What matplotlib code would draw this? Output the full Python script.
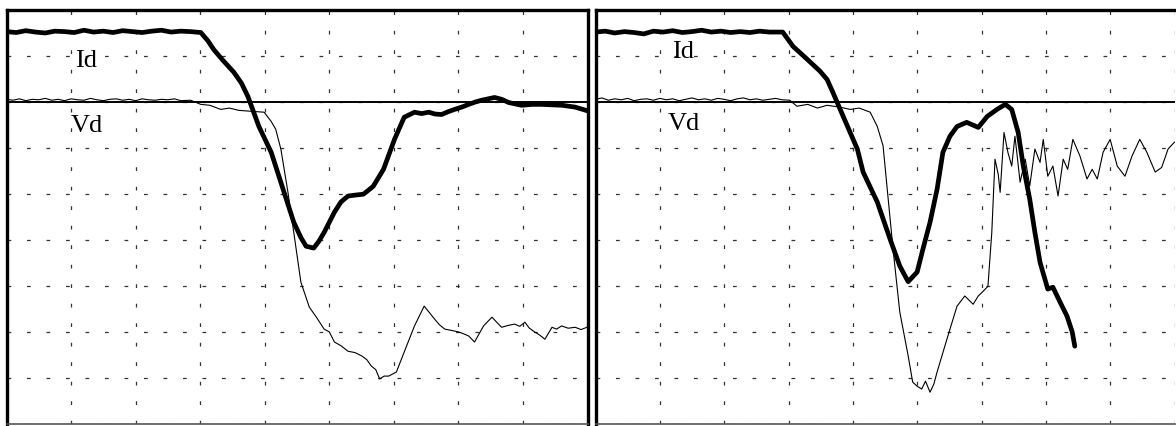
import matplotlib
matplotlib.use('Agg')
import matplotlib.pyplot as plt

# traces in screen divisions (x: 0..9 div, y: 0..9 div, reference line at 7)
left_id_x = [0.0, 0.15, 0.3, 0.45, 0.6, 0.75, 0.9, 1.05, 1.2, 1.35, 1.5, 1.65, 1.8, 1.95, 2.1, 2.25,
             2.4, 2.55, 2.7, 2.85, 3.01, 3.12, 3.21, 3.35, 3.52, 3.64, 3.74, 3.91, 4.10, 4.30, 4.45,
             4.56, 4.64, 4.76, 4.84, 4.92, 5.08, 5.18, 5.29, 5.40, 5.53, 5.68, 5.84, 6.01, 6.16, 6.32,
             6.43, 6.54, 6.64, 6.74, 6.84, 6.94, 7.05, 7.16, 7.26, 7.36, 7.46, 7.56, 7.67, 7.78, 7.88,
             7.98, 8.14, 8.29, 8.45, 8.61, 8.71, 8.81, 9.0]
left_id_y = [8.52, 8.50, 8.54, 8.51, 8.49, 8.53, 8.52, 8.50, 8.55, 8.51, 8.53, 8.50, 8.54, 8.52, 8.50,
             8.53, 8.55, 8.51, 8.53, 8.52, 8.50, 8.32, 8.13, 7.90, 7.64, 7.40, 7.11, 6.46, 5.90, 5.03,
             4.38, 4.05, 3.86, 3.82, 3.97, 4.16, 4.60, 4.82, 4.95, 4.97, 4.99, 5.16, 5.53, 6.18, 6.66,
             6.77, 6.74, 6.77, 6.73, 6.72, 6.78, 6.83, 6.88, 6.94, 6.99, 7.03, 7.06, 7.09, 7.05, 6.98,
             6.95, 6.92, 6.94, 6.94, 6.93, 6.92, 6.90, 6.88, 6.80]

left_vd_x = [0.0, 0.1, 0.2, 0.3, 0.4, 0.5, 0.6, 0.7, 0.8, 0.9, 1.0, 1.1, 1.2, 1.3, 1.4, 1.5, 1.6, 1.7,
             1.8, 1.9, 2.0, 2.1, 2.2, 2.3, 2.4, 2.5, 2.6, 2.7, 2.85, 3.01, 3.15, 3.32, 3.45, 3.6, 3.79,
             3.99, 4.10, 4.17, 4.25, 4.36, 4.45, 4.56, 4.69, 4.80, 4.92, 5.00, 5.08, 5.18, 5.29, 5.40,
             5.50, 5.58, 5.65, 5.72, 5.78, 5.85, 5.92, 6.04, 6.16, 6.32, 6.47, 6.55, 6.63, 6.71, 6.79,
             6.90, 7.00, 7.08, 7.16, 7.25, 7.39, 7.52, 7.60, 7.67, 7.77, 7.87, 7.95, 8.03, 8.10, 8.18,
             8.26, 8.34, 8.45, 8.52, 8.60, 8.70, 8.81, 8.90, 8.99]
left_vd_y = [7.05, 7.03, 7.06, 7.02, 7.05, 7.04, 7.07, 7.03, 7.05, 7.02, 7.06, 7.04, 7.03, 7.07, 7.04,
             7.02, 7.05, 7.06, 7.03, 7.05, 7.02, 7.06, 7.04, 7.03, 7.05, 7.04, 7.06, 7.02, 7.03, 6.94,
             6.92, 6.83, 6.86, 6.81, 6.79, 6.77, 6.57, 6.40, 5.97, 5.03, 4.16, 3.08, 2.54, 2.32, 2.06,
             2.00, 1.78, 1.70, 1.58, 1.55, 1.48, 1.40, 1.26, 1.18, 0.98, 1.04, 1.04, 1.13, 1.56, 2.13,
             2.56, 2.42, 2.28, 2.15, 2.06, 2.03, 2.00, 1.96, 1.91, 1.78, 2.13, 2.32, 2.20, 2.10, 2.14,
             2.17, 2.12, 2.21, 2.08, 2.00, 1.93, 1.84, 2.10, 2.06, 2.13, 2.08, 2.10, 2.05, 2.10]

right_id_x = [0.0, 0.15, 0.3, 0.45, 0.6, 0.75, 0.9, 1.05, 1.2, 1.35, 1.5, 1.65, 1.8, 1.95, 2.1, 2.25,
              2.4, 2.55, 2.7, 2.91, 3.07, 3.29, 3.49, 3.60, 3.69, 3.85, 4.07, 4.16, 4.38, 4.58, 4.73,
              4.86, 5.00, 5.09, 5.20, 5.31, 5.40, 5.51, 5.62, 5.77, 5.95, 6.09, 6.24, 6.37, 6.47, 6.57,
              6.65, 6.75, 6.83, 6.91, 7.03, 7.11, 7.22, 7.33, 7.41, 7.45]
right_id_y = [8.51, 8.53, 8.49, 8.52, 8.50, 8.47, 8.53, 8.51, 8.54, 8.50, 8.52, 8.55, 8.51, 8.53, 8.50,
              8.52, 8.50, 8.53, 8.51, 8.51, 8.20, 7.92, 7.66, 7.48, 7.20, 6.68, 5.97, 5.47, 4.82, 4.01,
              3.43, 3.09, 3.30, 3.80, 4.38, 5.10, 5.90, 6.25, 6.46, 6.55, 6.44, 6.68, 6.83, 6.94, 6.83,
              6.33, 5.60, 4.88, 4.16, 3.51, 2.93, 2.97, 2.65, 2.34, 2.00, 1.69]

right_vd_x = [0.0, 0.1, 0.2, 0.3, 0.4, 0.5, 0.6, 0.7, 0.8, 0.9, 1.0, 1.1, 1.2, 1.3, 1.4, 1.5, 1.6, 1.7,
              1.8, 1.9, 2.0, 2.1, 2.2, 2.3, 2.4, 2.5, 2.6, 2.7, 2.8, 2.9, 3.02, 3.13, 3.3, 3.45, 3.6,
              3.80, 3.96, 4.10, 4.27, 4.38, 4.47, 4.55, 4.63, 4.73, 4.86, 4.93, 5.00, 5.07, 5.13, 5.20,
              5.26, 5.31, 5.43, 5.51, 5.62, 5.74, 5.82, 5.87, 5.95, 6.01, 6.10, 6.16, 6.21, 6.26, 6.29,
              6.35, 6.41, 6.47, 6.52, 6.60, 6.68, 6.75, 6.83, 6.91, 6.96, 7.03, 7.11, 7.19, 7.27, 7.34,
              7.42, 7.53, 7.64, 7.72, 7.80, 7.89, 8.00, 8.11, 8.23, 8.34, 8.46, 8.57, 8.70, 8.80, 8.90,
              9.0]
right_vd_y = [7.05, 7.08, 7.03, 7.06, 7.04, 7.07, 7.02, 7.05, 7.06, 7.03, 7.07, 7.04, 7.06, 7.02, 7.05,
              7.08, 7.04, 7.06, 7.03, 7.07, 7.05, 7.02, 7.06, 7.08, 7.04, 7.06, 7.03, 7.05, 7.07, 7.04,
              7.03, 6.90, 6.94, 6.86, 6.92, 6.88, 6.83, 6.86, 6.77, 6.46, 6.04, 4.88, 3.73, 2.43, 1.48,
              0.91, 0.82, 0.76, 0.93, 0.69, 0.87, 1.13, 1.69, 2.06, 2.56, 2.78, 2.67, 2.60, 2.78, 2.86,
              2.99, 4.16, 5.75, 5.42, 5.03, 6.33, 5.90, 5.60, 6.25, 5.25, 5.75, 5.17, 5.97, 5.68, 6.18,
              5.38, 5.60, 4.95, 5.75, 5.53, 6.18, 5.82, 5.32, 5.53, 5.32, 5.90, 6.18, 5.60, 5.38, 5.82,
              6.18, 5.90, 5.47, 5.57, 5.97, 6.12]

ref_level = 7
divs = list(range(10))

fig = plt.figure(figsize=(11.76, 4.27), dpi=100)
W, H = 1176, 427
ax_l = fig.add_axes([6.5 / W, 2 / H, 581 / W, 414.5 / H])
ax_r = fig.add_axes([595.5 / W, 2 / H, 579 / W, 414.5 / H])

panels = [(ax_l, left_id_x, left_id_y, left_vd_x, left_vd_y, (1.06, 7.77), (1.0, 6.36)),
          (ax_r, right_id_x, right_id_y, right_vd_x, right_vd_y, (1.19, 7.96), (1.12, 6.40))]
for ax, ix, iy, vx, vy, id_pos, vd_pos in panels:
    ax.set_xlim(0, 9); ax.set_ylim(0, 9)
    ax.set_xticks(divs); ax.set_yticks(divs)
    ax.tick_params(length=0, labelbottom=False, labelleft=False)
    ax.grid(True, color='#333333', lw=0.9, linestyle=(0, (3, 12.6)))
    ax.axhline(ref_level, color='black', lw=1.4, zorder=3)
    ax.plot(vx, vy, color='black', lw=0.8, zorder=4)
    ax.plot(ix, iy, color='black', lw=3.4, solid_capstyle='round', solid_joinstyle='round', zorder=5)
    ax.text(*id_pos, 'Id', family='Liberation Serif', fontsize=19, va='baseline')
    ax.text(*vd_pos, 'Vd', family='Liberation Serif', fontsize=19, va='baseline')
    for s in ['top', 'left', 'right']:
        ax.spines[s].set_linewidth(2.4)
    ax.spines['bottom'].set_linewidth(1.2); ax.spines['bottom'].set_color('#555555')
ax_r.spines['right'].set_visible(False)

fig.savefig('out.png', dpi=100, facecolor='white')
